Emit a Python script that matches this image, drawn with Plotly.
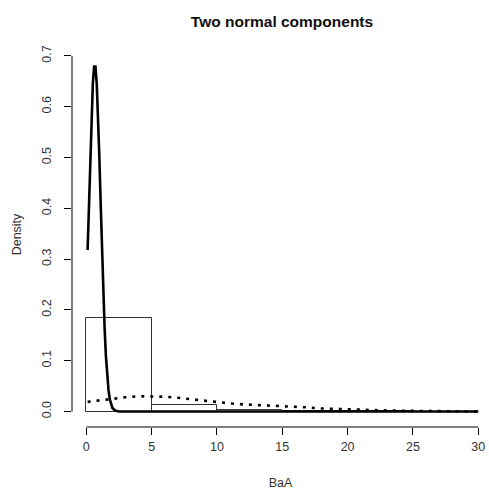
import plotly.graph_objects as go

# Histogram (density scale)
bin_left = [0, 5, 10, 15, 20, 25]
bin_density = [0.184, 0.012, 0.002, 0.001, 0.001, 0.0]
bin_width = 5

# Component 1 (solid)
c1_x = [0.1, 0.2, 0.3, 0.4, 0.5, 0.6, 0.7, 0.8, 0.9, 1.0, 1.1, 1.2, 1.3, 1.4,
        1.5, 1.6, 1.7, 1.8, 1.9, 2.0, 2.2, 2.5, 30]
c1_y = [0.318, 0.410, 0.501, 0.583, 0.645, 0.679, 0.679, 0.645, 0.583, 0.501,
        0.410, 0.318, 0.235, 0.165, 0.110, 0.070, 0.042, 0.024, 0.013, 0.007,
        0.002, 0.0, 0.0]

# Component 2 (dotted)
c2_x = [0.1, 1, 2, 3, 4, 5, 6, 7, 8, 9, 10, 11, 12, 13, 14, 15, 16, 17, 18, 19,
        20, 21, 22, 23, 24, 25, 26, 27, 28, 29, 30]
c2_y = [0.019, 0.022, 0.025, 0.028, 0.030, 0.030, 0.029, 0.027, 0.024, 0.021,
        0.018, 0.016, 0.014, 0.013, 0.012, 0.011, 0.009, 0.008, 0.006, 0.005,
        0.004, 0.003, 0.003, 0.002, 0.0015, 0.001, 0.0007, 0.0004, 0.0003,
        0.0002, 0.0001]

x_ticks = [0, 5, 10, 15, 20, 25, 30]
y_ticks = [0.0, 0.1, 0.2, 0.3, 0.4, 0.5, 0.6, 0.7]
y_tick_text = ["0.0", "0.1", "0.2", "0.3", "0.4", "0.5", "0.6", "0.7"]

FONT = "Liberation Sans, Arial, sans-serif"

fig = go.Figure()
fig.add_trace(go.Bar(
    x=[b + bin_width / 2 for b in bin_left], y=bin_density, width=bin_width,
    marker=dict(color="white", line=dict(color="#333", width=1)),
    hoverinfo="skip", showlegend=False))
fig.add_trace(go.Scatter(x=c1_x, y=c1_y, mode="lines",
                         line=dict(color="black", width=2.6), showlegend=False))
fig.add_trace(go.Scatter(x=c2_x, y=c2_y, mode="lines",
                         line=dict(color="black", width=2.6, dash="3px,6px"),
                         showlegend=False))

fig.add_shape(type="line", xref="x", yref="paper", x0=0, x1=30, y0=0, y1=0,
              line=dict(color="black", width=1))
fig.add_shape(type="line", xref="paper", yref="y", x0=0, x1=0, y0=0, y1=0.7,
              line=dict(color="black", width=1))

fig.update_layout(
    width=489, height=491,
    margin=dict(l=72, r=0, t=42, b=64),
    plot_bgcolor="white", paper_bgcolor="white",
    bargap=0,
    font=dict(family=FONT, color="#222", size=12),
    title=dict(text="<b>Two normal components</b>", x=282 / 489, xanchor="center",
               y=1 - 22 / 491, yanchor="middle",
               font=dict(family=FONT, size=15.5, color="#111")),
    xaxis=dict(range=[-1.094, 30.82], showgrid=False, zeroline=False, showline=False,
               tickvals=x_ticks, ticks="outside", ticklen=7, tickcolor="black",
               ticklabelstandoff=1,
               tickfont=dict(size=12.5, color="#333"),
               title=dict(text="BaA", font=dict(size=12.5, color="#333"), standoff=25)),
    yaxis=dict(range=[-0.0305, 0.7274], showgrid=False, zeroline=False, showline=False,
               tickvals=y_ticks, ticktext=y_tick_text, tickangle=-90,
               ticks="outside", ticklen=7, tickcolor="black",
               ticklabelstandoff=8,
               tickfont=dict(size=12.5, color="#333"),
               title=dict(text="Density", font=dict(size=12.5, color="#333"), standoff=15)),
)

fig.write_html("out.html", config={"displayModeBar": False},
               post_script="document.body.style.margin='0';document.body.style.overflow='hidden';")
